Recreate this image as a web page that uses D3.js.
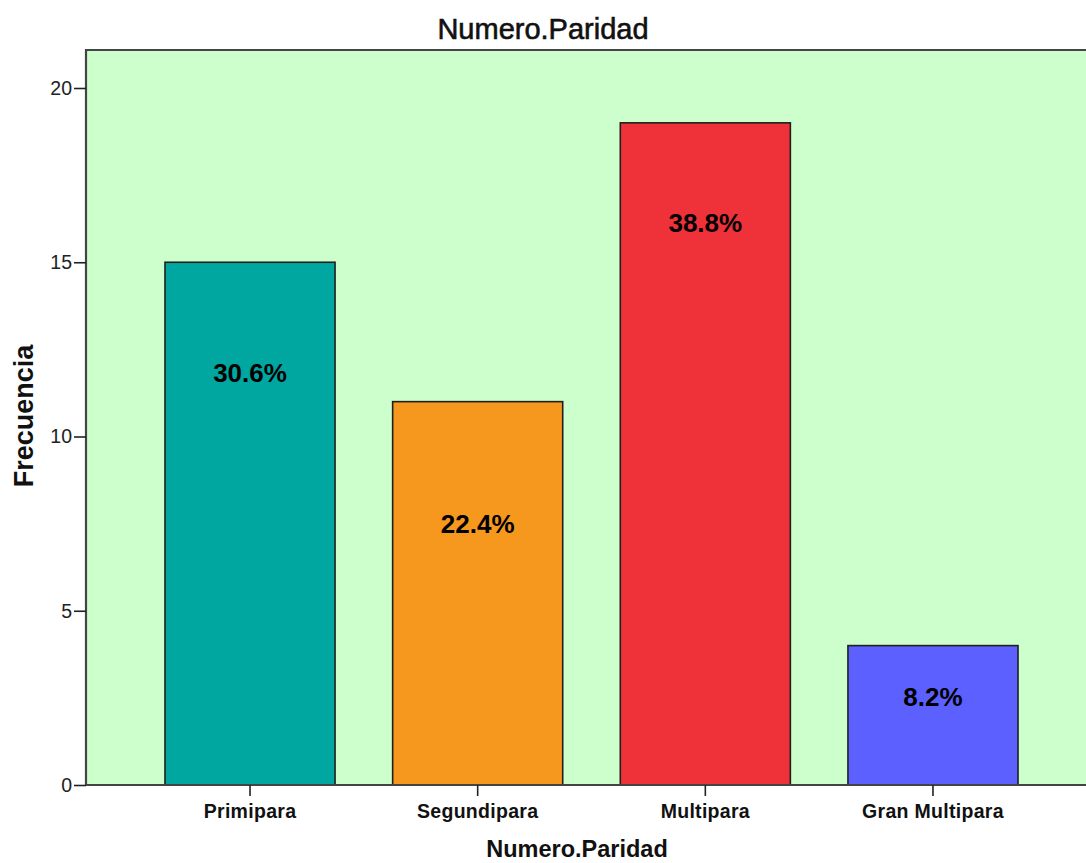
<!DOCTYPE html>
<html>
<head>
<meta charset="utf-8">
<script src="https://cdn.jsdelivr.net/npm/d3@7/dist/d3.min.js"></script>
<style>
  html, body { margin: 0; padding: 0; background: #ffffff; }
  svg { display: block; font-family: "Liberation Sans", Arial, sans-serif; }
</style>
</head>
<body>
<svg id="chart" width="1086" height="863"></svg>
<script>
// Frequency of each parity group
const categories = ["Primipara", "Segundipara", "Multipara", "Gran Multipara"];
const counts = [15, 11, 19, 4];
const barColors = ["#00a6a0", "#f7981e", "#ef3139", "#5b60ff"];
const yTicks = [0, 5, 10, 15, 20];
const chartTitle = "Numero.Paridad";
const xTitle = "Numero.Paridad";
const yTitle = "Frecuencia";

const total = d3.sum(counts);
const data = categories.map((c, i) => ({ cat: c, value: counts[i], color: barColors[i] }));

const svg = d3.select("#chart");
const plot = { left: 86, right: 1097, top: 50, bottom: 785 };

const x = d3.scaleBand()
  .domain(categories)
  .range([plot.left, plot.right])
  .paddingInner(0.253)
  .paddingOuter(0.347);

const y = d3.scaleLinear()
  .domain([0, 20])
  .range([plot.bottom, 88]);

// plot background
svg.append("rect")
  .attr("x", plot.left).attr("y", plot.top)
  .attr("width", plot.right - plot.left).attr("height", plot.bottom - plot.top)
  .attr("fill", "#ccffcc");

// bars
svg.append("g").selectAll("rect")
  .data(data)
  .join("rect")
  .attr("x", d => x(d.cat))
  .attr("y", d => y(d.value))
  .attr("width", x.bandwidth())
  .attr("height", d => y(0) - y(d.value))
  .attr("fill", d => d.color)
  .attr("stroke", "#1f1f1f")
  .attr("stroke-width", 1.6);

// percentage labels inside bars
const maxH = y(0) - y(d3.max(counts));
svg.append("g").selectAll("text")
  .data(data)
  .join("text")
  .attr("x", d => x(d.cat) + x.bandwidth() / 2)
  .attr("y", d => {
    const h = y(0) - y(d.value);
    return y(d.value) + Math.min(0.37 * h, 100 + 0.08 * (maxH - h));
  })
  .attr("text-anchor", "middle")
  .attr("dominant-baseline", "central")
  .attr("font-size", 26)
  .attr("font-weight", "bold")
  .attr("fill", "#000")
  .text(d => (d.value / total * 100).toFixed(1) + "%");

// frame lines: left and top
svg.append("path")
  .attr("d", `M${plot.left},${plot.bottom}V${plot.top}H${plot.right}`)
  .attr("fill", "none")
  .attr("stroke", "#444")
  .attr("stroke-width", 2.2);

// y axis
const yAxis = svg.append("g")
  .attr("transform", `translate(${plot.left},0)`)
  .call(d3.axisLeft(y).tickValues(yTicks).tickSize(12).tickPadding(2).tickFormat(d3.format("d")));
yAxis.select(".domain").remove();
yAxis.selectAll(".tick line").attr("stroke", "#222").attr("stroke-width", 1.6);
yAxis.selectAll(".tick text")
  .attr("font-size", 19.5)
  .attr("font-family", "Liberation Sans, Arial, sans-serif")
  .attr("fill", "#222");

// x axis
const xAxis = svg.append("g")
  .attr("transform", `translate(0,${plot.bottom})`)
  .call(d3.axisBottom(x).tickSize(11).tickPadding(8));
xAxis.select(".domain")
  .attr("d", `M${plot.left},0H${plot.right}`)
  .attr("stroke", "#444")
  .attr("stroke-width", 2.2);
xAxis.selectAll(".tick line").attr("stroke", "#222").attr("stroke-width", 1.6);
xAxis.selectAll(".tick text")
  .attr("font-size", 19.5)
  .attr("font-weight", "bold")
  .attr("letter-spacing", 0.3)
  .attr("font-family", "Liberation Sans, Arial, sans-serif")
  .attr("fill", "#111");

// titles
svg.append("text")
  .attr("x", 543).attr("y", 39)
  .attr("text-anchor", "middle")
  .attr("font-size", 29)
  .attr("fill", "#111")
  .attr("stroke", "#111")
  .attr("stroke-width", 0.6)
  .text(chartTitle);

svg.append("text")
  .attr("x", 577).attr("y", 857)
  .attr("text-anchor", "middle")
  .attr("font-size", 23.5)
  .attr("font-weight", "bold")
  .attr("fill", "#111")
  .text(xTitle);

svg.append("text")
  .attr("transform", `translate(33,416) rotate(-90)`)
  .attr("text-anchor", "middle")
  .attr("font-size", 27)
  .attr("font-weight", "bold")
  .attr("fill", "#111")
  .text(yTitle);
</script>
</body>
</html>
